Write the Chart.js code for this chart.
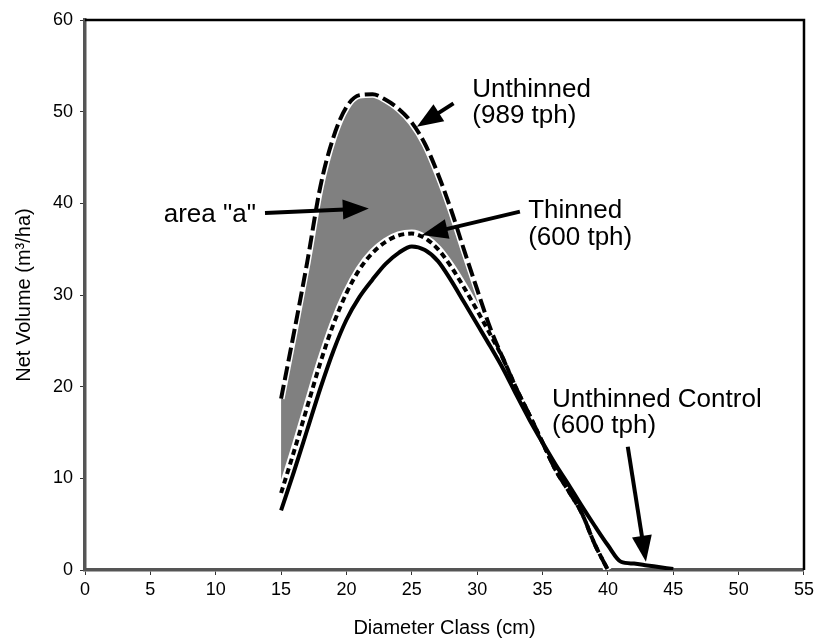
<!DOCTYPE html>
<html>
<head>
<meta charset="utf-8">
<script src="https://cdn.jsdelivr.net/npm/chart.js@4/dist/chart.umd.min.js"></script>
<style>
html,body{margin:0;padding:0;background:#fff;}
#wrap{width:818px;height:640px;}
</style>
</head>
<body>
<div id="wrap"><canvas id="c" width="818" height="640"></canvas></div>
<script>
// ---- data ----
const diameterClasses = [15,16,17,18,19,20,21,22,23,24,25,26,27,28,29,30,31,32,33,34,35,36,37,38,39,40,41,42,43,44,45];
const unthinned989 = [18.7,26.0,33.6,41.8,47.2,50.5,51.8,51.9,51.3,50.3,48.8,46.5,43.2,39.3,34.9,30.6,26.4,23.0,19.8,16.9,13.9,10.9,8.6,6.2,2.8,0,null,null,null,null,null];
const thinned600   = [8.4,13.0,17.8,22.6,26.8,30.2,32.8,34.6,35.8,36.5,36.7,36.2,35.0,33.1,30.8,28.3,25.7,23.0,19.8,16.9,13.9,10.9,8.6,6.2,2.8,0,null,null,null,null,null];
const control600   = [6.5,10.8,15.3,19.8,23.9,27.3,29.8,31.7,33.4,34.6,35.3,34.9,33.7,31.6,29.2,26.8,24.4,21.9,19.1,16.4,13.9,11.5,9.3,7.0,4.8,2.7,0.9,0.7,0.5,0.3,0.1];
const xTickValues = [0,5,10,15,20,25,30,35,40,45,50,55];
const yTickValues = [0,10,20,30,40,50,60];
const xAxisTitle = 'Diameter Class (cm)';
const yAxisTitle = 'Net Volume (m\u00B3/ha)';

// annotation texts and arrows, anchored in data units
const noteTexts = [
  {lines:['Unthinned','(989 tph)'], at:[29.63,51.65]},
  {lines:['area "a"'], at:[6.02,38.0]},
  {lines:['Thinned','(600 tph)'], at:[33.9,38.37]},
  {lines:['Unthinned Control','(600 tph)'], at:[35.73,17.81]}
];
const noteArrows = [
  {from:[28.19,50.9], to:[25.39,48.36]},
  {from:[13.77,38.95], to:[21.71,39.45]},
  {from:[33.27,39.09], to:[25.77,36.55]},
  {from:[41.52,13.45], to:[42.91,0.91]}
];

function toPoints(values){
  const pts = [];
  diameterClasses.forEach((d,i)=>{ if(values[i]!==null) pts.push({x:d,y:values[i]}); });
  return pts;
}

const annotPlugin = {
  id:'annot',
  afterDatasetsDraw(chart){
    const {ctx, chartArea:a, scales:{x,y}} = chart;
    ctx.save();
    // top and right frame lines
    ctx.strokeStyle = '#000';
    ctx.lineWidth = 2.5;
    ctx.beginPath();
    ctx.moveTo(a.left, a.top); ctx.lineTo(a.right, a.top); ctx.lineTo(a.right, a.bottom);
    ctx.stroke();
    // arrows
    ctx.fillStyle = '#000';
    noteArrows.forEach(ar=>{
      const x0 = x.getPixelForValue(ar.from[0]), y0 = y.getPixelForValue(ar.from[1]);
      const x1 = x.getPixelForValue(ar.to[0]),   y1 = y.getPixelForValue(ar.to[1]);
      const ang = Math.atan2(y1-y0, x1-x0);
      const hl = 26, hw = 10;
      const bx = x1 - hl*Math.cos(ang), by = y1 - hl*Math.sin(ang);
      ctx.lineWidth = 4; ctx.lineCap = 'butt';
      ctx.beginPath(); ctx.moveTo(x0,y0); ctx.lineTo(bx + 2*Math.cos(ang), by + 2*Math.sin(ang)); ctx.stroke();
      ctx.beginPath();
      ctx.moveTo(x1,y1);
      ctx.lineTo(bx - hw*Math.sin(ang), by + hw*Math.cos(ang));
      ctx.lineTo(bx + hw*Math.sin(ang), by - hw*Math.cos(ang));
      ctx.closePath(); ctx.fill();
    });
    // texts
    ctx.font = '26px "Liberation Sans", Arial, sans-serif';
    ctx.textAlign = 'left'; ctx.textBaseline = 'alphabetic';
    noteTexts.forEach(t=>{
      const px = x.getPixelForValue(t.at[0]), py = y.getPixelForValue(t.at[1]);
      t.lines.forEach((ln,i)=> ctx.fillText(ln, px, py + i*26.6));
    });
    ctx.restore();
  }
};

const axisFont = {family:'"Liberation Sans", Arial, sans-serif', size:18};
const titleFont = {family:'"Liberation Sans", Arial, sans-serif', size:20};

new Chart(document.getElementById('c'), {
  type:'line',
  data:{
    datasets:[
      {label:'Unthinned Control (600 tph)', data:toPoints(control600), borderColor:'#000', borderWidth:4, pointRadius:0, fill:false, cubicInterpolationMode:'monotone'},
      {label:'Thinned (600 tph)', data:toPoints(thinned600), borderColor:'#000', borderWidth:4, borderDash:[6,4], borderCapStyle:'butt', pointRadius:0, fill:false, cubicInterpolationMode:'monotone'},
      {label:'Unthinned (989 tph)', data:toPoints(unthinned989), borderColor:'#000', borderWidth:4, borderDash:[14,5], borderCapStyle:'butt', pointRadius:0, cubicInterpolationMode:'monotone',
        fill:{target:1, above:'#808080', below:'#808080'}},
      {label:'halo-thinned', data:toPoints(thinned600), borderColor:'#fff', borderWidth:8, pointRadius:0, fill:false, cubicInterpolationMode:'monotone'},
      {label:'halo-unthinned', data:toPoints(unthinned989), borderColor:'#fff', borderWidth:7, pointRadius:0, fill:false, cubicInterpolationMode:'monotone'}
    ]
  },
  options:{
    responsive:false,
    animation:false,
    layout:{padding:{top:20, right:11, left:0, bottom:0}},
    plugins:{legend:{display:false}, tooltip:{enabled:false}, filler:{drawTime:'beforeDatasetsDraw'}},
    scales:{
      x:{type:'linear', min:0, max:55,
        afterFit:s=>{s.height = 70;},
        afterBuildTicks:s=>{s.ticks = xTickValues.map(v=>({value:v}));},
        grid:{drawOnChartArea:false, drawTicks:true, tickLength:5, color:'#333'},
        border:{display:true, color:'#555', width:3.5},
        ticks:{color:'#000', font:axisFont, padding:4, maxRotation:0, autoSkip:false},
        title:{display:true, text:xAxisTitle, color:'#000', font:titleFont, padding:{top:0,bottom:0}}
      },
      y:{type:'linear', min:0, max:60,
        afterFit:s=>{s.width = 85;},
        afterBuildTicks:s=>{s.ticks = yTickValues.map(v=>({value:v}));},
        grid:{drawOnChartArea:false, drawTicks:true, tickLength:5, color:'#333'},
        border:{display:true, color:'#555', width:3.5},
        ticks:{color:'#000', font:axisFont, padding:7, autoSkip:false},
        title:{display:true, text:yAxisTitle, color:'#000', font:titleFont, padding:{top:12,bottom:0}}
      }
    }
  },
  plugins:[annotPlugin]
});
</script>
</body>
</html>
